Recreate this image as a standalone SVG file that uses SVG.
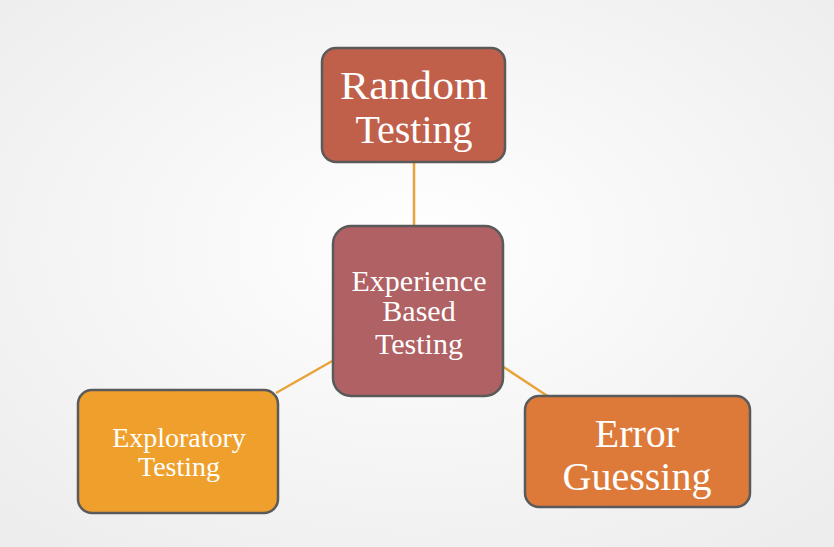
<svg xmlns="http://www.w3.org/2000/svg" width="834" height="547" viewBox="0 0 834 547">
<defs>
<radialGradient id="bg" cx="50%" cy="45%" r="70%"><stop offset="0" stop-color="#ffffff"/><stop offset="1" stop-color="#ededed"/></radialGradient>
<style>
.n{stroke:#5a5a5a;stroke-width:2.5}
.t{font-family:"Liberation Serif",serif;fill:#fff;text-anchor:middle}
.c{stroke:#e8a33a;stroke-width:2.5;fill:none}
</style>
</defs>
<rect width="834" height="547" fill="url(#bg)"/>
<g id="connectors">
<line class="c" x1="414" y1="162" x2="414" y2="226"/>
<line class="c" x1="334" y1="360" x2="276" y2="393"/>
<line class="c" x1="502" y1="366" x2="549" y2="397"/>
</g>
<g id="random"><rect class="n" x="322" y="48" width="183" height="114" rx="14" fill="#c0604a"/>
<text class="t" x="414" y="99" font-size="40" textLength="148" lengthAdjust="spacingAndGlyphs">Random</text><text class="t" x="414" y="143" font-size="40">Testing</text></g>
<g id="center"><rect class="n" x="333" y="226" width="170" height="170" rx="18" fill="#b06163"/>
<text class="t" x="419" y="291" font-size="30">Experience</text><text class="t" x="419" y="321" font-size="30">Based</text><text class="t" x="419" y="354" font-size="30">Testing</text></g>
<g id="exploratory"><rect class="n" x="78" y="390" width="200" height="123" rx="14" fill="#efa02c"/>
<text class="t" x="179" y="447" font-size="28">Exploratory</text><text class="t" x="179" y="476" font-size="28">Testing</text></g>
<g id="error"><rect class="n" x="525" y="396" width="225" height="111" rx="14" fill="#dd7a3a"/>
<text class="t" x="637" y="447" font-size="40">Error</text><text class="t" x="637" y="490" font-size="40">Guessing</text></g>
</svg>
